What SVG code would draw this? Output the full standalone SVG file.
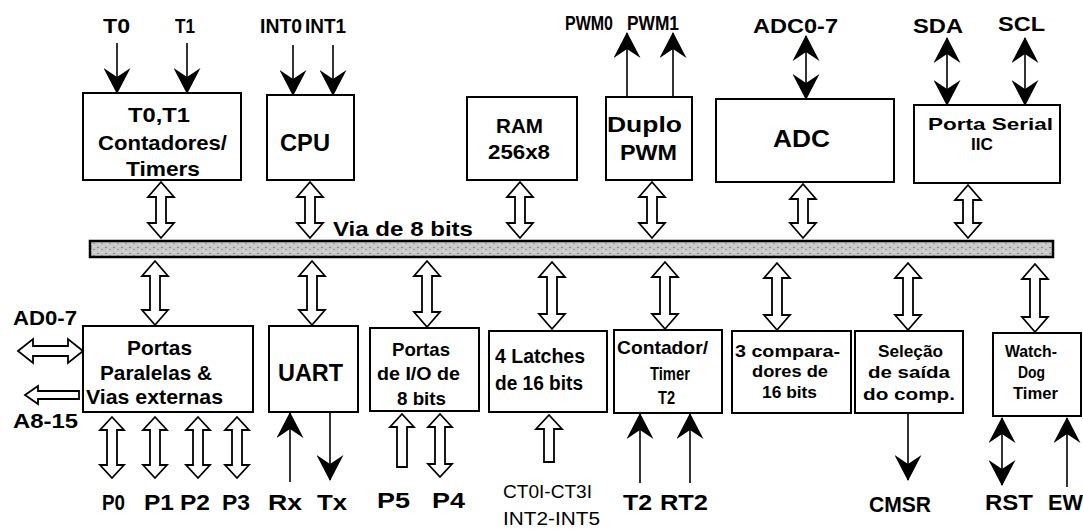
<svg xmlns="http://www.w3.org/2000/svg" width="1083" height="530" viewBox="0 0 1083 530">
<style>
text{font-family:"Liberation Sans",Arial,sans-serif;font-weight:bold;fill:#000}
.n{font-weight:normal}
.box{fill:#fff;stroke:#000;stroke-width:2}
.ha{fill:#fff;stroke:#000;stroke-width:1.8;stroke-linejoin:miter}
.sa{fill:none;stroke:#000;stroke-width:1.6}
.bus{fill:url(#speck);stroke:#000;stroke-width:2.5}
</style>
<defs>
<marker id="ah" viewBox="0 0 26 27" refX="25" refY="13.5" markerWidth="26" markerHeight="27" markerUnits="userSpaceOnUse" orient="auto-start-reverse">
<path d="M0,0 L26,13.5 L0,27 L9,13.5 Z" fill="#000"/>
</marker>
<pattern id="speck" width="8" height="6" patternUnits="userSpaceOnUse">
<rect width="8" height="6" fill="#c8c8c8"/>
<rect x="1" y="1" width="2" height="1" fill="#8a8a8a"/>
<rect x="5" y="3" width="2" height="1" fill="#9a9a9a"/>
<rect x="3" y="4" width="1" height="1" fill="#f0f0f0"/>
<rect x="6" y="0" width="1" height="1" fill="#f0f0f0"/>
</pattern>
</defs>
<rect width="1083" height="530" fill="#fff"/>

<g id="bus">
<rect class="bus" x="90" y="241" width="963" height="16"/>
<text x="333" y="236" font-size="21" textLength="140" lengthAdjust="spacingAndGlyphs">Via de 8 bits</text>
</g>

<g id="timers">
<rect class="box" x="83" y="93" width="158" height="87"/>
<text x="128" y="122" font-size="21" textLength="62" lengthAdjust="spacingAndGlyphs">T0,T1</text>
<text x="98" y="150" font-size="21" textLength="129" lengthAdjust="spacingAndGlyphs">Contadores/</text>
<text x="126" y="176" font-size="21" textLength="74" lengthAdjust="spacingAndGlyphs">Timers</text>
</g>
<g id="cpu">
<rect class="box" x="267" y="95" width="87" height="85"/>
<text x="280" y="151" font-size="24" textLength="50" lengthAdjust="spacingAndGlyphs">CPU</text>
</g>
<g id="ram">
<rect class="box" x="467" y="97" width="110" height="83"/>
<text x="496" y="133" font-size="21" textLength="47" lengthAdjust="spacingAndGlyphs">RAM</text>
<text x="488" y="159" font-size="21" textLength="62" lengthAdjust="spacingAndGlyphs">256x8</text>
</g>
<g id="pwm">
<rect class="box" x="606" y="97" width="86" height="83"/>
<text x="607" y="132" font-size="22" textLength="75" lengthAdjust="spacingAndGlyphs">Duplo</text>
<text x="620" y="160" font-size="22" textLength="57" lengthAdjust="spacingAndGlyphs">PWM</text>
</g>
<g id="adc">
<rect class="box" x="716" y="99" width="178" height="83"/>
<text x="773" y="147" font-size="24" textLength="57" lengthAdjust="spacingAndGlyphs">ADC</text>
</g>
<g id="iic">
<rect class="box" x="914" y="105" width="146" height="78"/>
<text x="928" y="130" font-size="17" textLength="125" lengthAdjust="spacingAndGlyphs">Porta Serial</text>
<text x="971" y="150" font-size="16" textLength="22" lengthAdjust="spacingAndGlyphs">IIC</text>
</g>

<g id="portas">
<rect class="box" x="83" y="326" width="170" height="86"/>
<text x="127" y="355" font-size="21" textLength="65" lengthAdjust="spacingAndGlyphs">Portas</text>
<text x="100" y="380" font-size="21" textLength="112" lengthAdjust="spacingAndGlyphs">Paralelas &amp;</text>
<text x="86" y="404" font-size="21" textLength="137" lengthAdjust="spacingAndGlyphs">Vias externas</text>
</g>
<g id="uart">
<rect class="box" x="269" y="326" width="89" height="86"/>
<text x="278" y="381" font-size="24" textLength="65" lengthAdjust="spacingAndGlyphs">UART</text>
</g>
<g id="io">
<rect class="box" x="370" y="328" width="109" height="83"/>
<text x="392" y="356" font-size="19" textLength="58" lengthAdjust="spacingAndGlyphs">Portas</text>
<text x="377" y="380" font-size="19" textLength="83" lengthAdjust="spacingAndGlyphs">de I/O de</text>
<text x="397" y="405" font-size="19" textLength="49" lengthAdjust="spacingAndGlyphs">8 bits</text>
</g>
<g id="latches">
<rect class="box" x="489" y="331" width="118" height="81"/>
<text x="495" y="363" font-size="20" textLength="90" lengthAdjust="spacingAndGlyphs">4 Latches</text>
<text x="495" y="390" font-size="20" textLength="88" lengthAdjust="spacingAndGlyphs">de 16 bits</text>
</g>
<g id="t2">
<rect class="box" x="614" y="330" width="108" height="83"/>
<text x="617" y="354" font-size="19" textLength="91" lengthAdjust="spacingAndGlyphs">Contador/</text>
<text x="650" y="380" font-size="19" textLength="40" lengthAdjust="spacingAndGlyphs">Timer</text>
<text x="658" y="404" font-size="19" textLength="17" lengthAdjust="spacingAndGlyphs">T2</text>
</g>
<g id="comp">
<rect class="box" x="732" y="331" width="119" height="82"/>
<text x="735" y="357" font-size="17" textLength="105" lengthAdjust="spacingAndGlyphs">3 compara-</text>
<text x="752" y="377" font-size="17" textLength="76" lengthAdjust="spacingAndGlyphs">dores de</text>
<text x="762" y="398" font-size="17" textLength="55" lengthAdjust="spacingAndGlyphs">16 bits</text>
</g>
<g id="selecao">
<rect class="box" x="855" y="331" width="108" height="82"/>
<text x="878" y="357" font-size="17" textLength="65" lengthAdjust="spacingAndGlyphs">Seleção</text>
<text x="868" y="378" font-size="17" textLength="82" lengthAdjust="spacingAndGlyphs">de saída</text>
<text x="863" y="400" font-size="17" textLength="92" lengthAdjust="spacingAndGlyphs">do comp.</text>
</g>
<g id="watchdog">
<rect class="box" x="993" y="333" width="88" height="83"/>
<text x="1005" y="357" font-size="16" textLength="52" lengthAdjust="spacingAndGlyphs">Watch-</text>
<text x="1018" y="378" font-size="16" textLength="27" lengthAdjust="spacingAndGlyphs">Dog</text>
<text x="1013" y="399" font-size="16" textLength="45" lengthAdjust="spacingAndGlyphs">Timer</text>
</g>

<g id="labels">
<text x="103" y="33" font-size="20" textLength="27" lengthAdjust="spacingAndGlyphs">T0</text>
<text x="175" y="33" font-size="20" textLength="20" lengthAdjust="spacingAndGlyphs">T1</text>
<text x="260" y="33" font-size="20" textLength="42" lengthAdjust="spacingAndGlyphs">INT0</text>
<text x="305" y="33" font-size="20" textLength="41" lengthAdjust="spacingAndGlyphs">INT1</text>
<text x="565" y="30" font-size="20" textLength="48" lengthAdjust="spacingAndGlyphs">PWM0</text>
<text x="627" y="30" font-size="20" textLength="52" lengthAdjust="spacingAndGlyphs">PWM1</text>
<text x="753" y="33" font-size="20" textLength="85" lengthAdjust="spacingAndGlyphs">ADC0-7</text>
<text x="913" y="33" font-size="20" textLength="50" lengthAdjust="spacingAndGlyphs">SDA</text>
<text x="998" y="31" font-size="20" textLength="47" lengthAdjust="spacingAndGlyphs">SCL</text>
<text x="13" y="325" font-size="20" textLength="64" lengthAdjust="spacingAndGlyphs">AD0-7</text>
<text x="13" y="428" font-size="20" textLength="65" lengthAdjust="spacingAndGlyphs">A8-15</text>
<text x="102" y="510" font-size="22" textLength="23" lengthAdjust="spacingAndGlyphs">P0</text>
<text x="144" y="510" font-size="22" textLength="30" lengthAdjust="spacingAndGlyphs">P1</text>
<text x="180" y="510" font-size="22" textLength="30" lengthAdjust="spacingAndGlyphs">P2</text>
<text x="222" y="510" font-size="22" textLength="28" lengthAdjust="spacingAndGlyphs">P3</text>
<text x="268" y="510" font-size="22" textLength="34" lengthAdjust="spacingAndGlyphs">Rx</text>
<text x="317" y="510" font-size="22" textLength="30" lengthAdjust="spacingAndGlyphs">Tx</text>
<text x="377" y="508" font-size="22" textLength="33" lengthAdjust="spacingAndGlyphs">P5</text>
<text x="432" y="508" font-size="22" textLength="33" lengthAdjust="spacingAndGlyphs">P4</text>
<text class="n" x="503" y="498" font-size="18" textLength="89" lengthAdjust="spacingAndGlyphs">CT0I-CT3I</text>
<text class="n" x="503" y="525" font-size="18" textLength="97" lengthAdjust="spacingAndGlyphs">INT2-INT5</text>
<text x="623" y="510" font-size="22" textLength="29" lengthAdjust="spacingAndGlyphs">T2</text>
<text x="660" y="510" font-size="22" textLength="48" lengthAdjust="spacingAndGlyphs">RT2</text>
<text x="869" y="512" font-size="22" textLength="62" lengthAdjust="spacingAndGlyphs">CMSR</text>
<text x="985" y="510" font-size="22" textLength="48" lengthAdjust="spacingAndGlyphs">RST</text>
<text x="1048" y="510" font-size="22" textLength="35" lengthAdjust="spacingAndGlyphs">EW</text>
</g>

<g id="connectors">
<line class="sa" x1="117" y1="43" x2="117" y2="93" marker-end="url(#ah)"/>
<line class="sa" x1="187" y1="43" x2="187" y2="93" marker-end="url(#ah)"/>
<line class="sa" x1="293" y1="45" x2="293" y2="95" marker-end="url(#ah)"/>
<line class="sa" x1="333" y1="45" x2="333" y2="95" marker-end="url(#ah)"/>
<line class="sa" x1="627" y1="97" x2="627" y2="33" marker-end="url(#ah)"/>
<line class="sa" x1="673" y1="97" x2="673" y2="33" marker-end="url(#ah)"/>
<line class="sa" x1="806" y1="36" x2="806" y2="99" marker-start="url(#ah)" marker-end="url(#ah)"/>
<line class="sa" x1="947" y1="38" x2="947" y2="105" marker-start="url(#ah)" marker-end="url(#ah)"/>
<line class="sa" x1="1025" y1="38" x2="1025" y2="105" marker-start="url(#ah)" marker-end="url(#ah)"/>
<line class="sa" x1="290" y1="482" x2="290" y2="413" marker-end="url(#ah)"/>
<line class="sa" x1="330" y1="412" x2="330" y2="480" marker-end="url(#ah)"/>
<line class="sa" x1="640" y1="483" x2="640" y2="414" marker-end="url(#ah)"/>
<line class="sa" x1="690" y1="483" x2="690" y2="414" marker-end="url(#ah)"/>
<line class="sa" x1="908" y1="413" x2="908" y2="480" marker-end="url(#ah)"/>
<line class="sa" x1="1002" y1="418" x2="1002" y2="485" marker-start="url(#ah)" marker-end="url(#ah)"/>
<line class="sa" x1="1067" y1="487" x2="1067" y2="418" marker-end="url(#ah)"/>
<path class="ha" d="M161,182 L174,197 L166,197 L166,223 L174,223 L161,238 L148,223 L156,223 L156,197 L148,197 Z"/>
<path class="ha" d="M310,182 L323,197 L315,197 L315,223 L323,223 L310,238 L297,223 L305,223 L305,197 L297,197 Z"/>
<path class="ha" d="M520,182 L533,197 L525,197 L525,223 L533,223 L520,238 L507,223 L515,223 L515,197 L507,197 Z"/>
<path class="ha" d="M652,182 L665,197 L657,197 L657,223 L665,223 L652,238 L639,223 L647,223 L647,197 L639,197 Z"/>
<path class="ha" d="M803,184 L816,199 L808,199 L808,223 L816,223 L803,238 L790,223 L798,223 L798,199 L790,199 Z"/>
<path class="ha" d="M968,185 L981,200 L973,200 L973,223 L981,223 L968,238 L955,223 L963,223 L963,200 L955,200 Z"/>
<path class="ha" d="M155,261 L168,276 L160,276 L160,310 L168,310 L155,325 L142,310 L150,310 L150,276 L142,276 Z"/>
<path class="ha" d="M312,261 L325,276 L317,276 L317,310 L325,310 L312,325 L299,310 L307,310 L307,276 L299,276 Z"/>
<path class="ha" d="M427,261 L440,276 L432,276 L432,312 L440,312 L427,327 L414,312 L422,312 L422,276 L414,276 Z"/>
<path class="ha" d="M552,262 L565,277 L557,277 L557,314 L565,314 L552,329 L539,314 L547,314 L547,277 L539,277 Z"/>
<path class="ha" d="M665,262 L678,277 L670,277 L670,314 L678,314 L665,329 L652,314 L660,314 L660,277 L652,277 Z"/>
<path class="ha" d="M777,263 L790,278 L782,278 L782,315 L790,315 L777,330 L764,315 L772,315 L772,278 L764,278 Z"/>
<path class="ha" d="M908,263 L921,278 L913,278 L913,315 L921,315 L908,330 L895,315 L903,315 L903,278 L895,278 Z"/>
<path class="ha" d="M1035,264 L1048,279 L1040,279 L1040,317 L1048,317 L1035,332 L1022,317 L1030,317 L1030,279 L1022,279 Z"/>
<path class="ha" d="M112,417 L124,430 L117,430 L117,465 L124,465 L112,478 L100,465 L107,465 L107,430 L100,430 Z"/>
<path class="ha" d="M155,417 L167,430 L160,430 L160,465 L167,465 L155,478 L143,465 L150,465 L150,430 L143,430 Z"/>
<path class="ha" d="M198,417 L210,430 L203,430 L203,465 L210,465 L198,478 L186,465 L193,465 L193,430 L186,430 Z"/>
<path class="ha" d="M237,417 L249,430 L242,430 L242,465 L249,465 L237,478 L225,465 L232,465 L232,430 L225,430 Z"/>
<path class="ha" d="M402,414 L414,427 L407,427 L407,467 L397,467 L397,427 L390,427 Z"/>
<path class="ha" d="M440,414 L452,427 L445,427 L445,464 L452,464 L440,477 L428,464 L435,464 L435,427 L428,427 Z"/>
<path class="ha" d="M549,415 L562,429 L554,429 L554,462 L544,462 L544,429 L536,429 Z"/>
<path class="ha" d="M18,351 L33,339 L33,346 L68,346 L68,339 L83,351 L68,363 L68,356 L33,356 L33,363 Z"/>
<path class="ha" d="M25,395 L38,386 L38,391 L79,391 L79,399 L38,399 L38,404 Z"/>
</g>
</svg>
